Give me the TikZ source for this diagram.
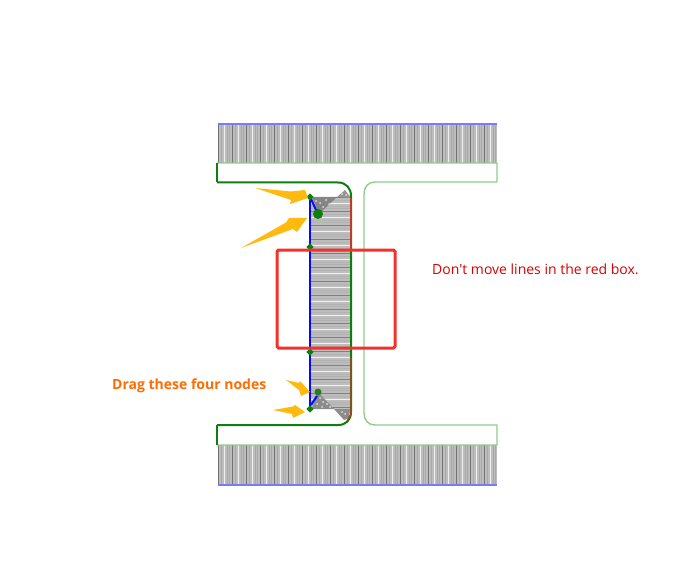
\documentclass[tikz,border=0pt]{standalone}
\usepackage{fontspec}
\setmainfont{Open Sans}
\newfontfamily\plainsans{Open Sans}
\usetikzlibrary{shapes.geometric}
\definecolor{lgreen}{HTML}{8FCB8F}
\definecolor{dgreen}{HTML}{0E7F0E}
\definecolor{lblue}{HTML}{7C7CF0}
\definecolor{myblue}{HTML}{0A0AF0}
\definecolor{myred}{HTML}{C0392B}
\definecolor{boxred}{HTML}{F5302A}
\definecolor{arrowy}{HTML}{FFB90F}
\definecolor{meshbg}{HTML}{BDBDBD}
\tikzset{
  thinl/.style={lgreen,line width=1.4pt},
  thickl/.style={dgreen,line width=2pt},
  yarrow/.style={fill=arrowy,draw=none},
  vnode/.style={fill=dgreen,draw=none,shape=diamond,inner sep=0pt,minimum size=7.5pt},
  cnode/.style={fill=dgreen,draw=none,shape=circle,inner sep=0pt,minimum size=10pt},
  cnodes/.style={fill=dgreen!80!gray,draw=none,shape=circle,inner sep=0pt,minimum size=7pt},
  note/.style={inner sep=0pt,anchor=west}
}
\begin{document}
\begin{tikzpicture}[x=1pt,y=-1pt]
\useasboundingbox (0,0) rectangle (696,564);
% flange meshes
\foreach \yt/\yb in {124/163,445/485}{
  \fill[meshbg] (218,\yt) rectangle (497,\yb);
  \foreach \i in {0,...,99}{
    \pgfmathsetmacro{\xx}{218.5+2.8*\i}
    \pgfmathtruncatemacro{\md}{mod(\i,5)}
    \ifnum\md=0
      \draw[black!55,line width=1pt] (\xx,\yt) -- (\xx,\yb);
    \else\ifnum\md=2
      \draw[white!88!gray,line width=.9pt] (\xx,\yt) -- (\xx,\yb);
    \else
      \draw[black!34,line width=.6pt] (\xx,\yt) -- (\xx,\yb);
    \fi\fi
  }
}
\draw[lblue,line width=1.2pt] (218,124) -- (497,124);
\draw[lblue,line width=1.2pt] (218,485) -- (497,485);
% web mesh
\fill[meshbg] (311,197) rectangle (350,410);
\foreach \i in {0,...,76}{
  \pgfmathsetmacro{\yy}{197.5+2.8*\i}
  \pgfmathtruncatemacro{\md}{mod(\i,5)}
  \ifnum\md=0
    \draw[black!50,line width=.9pt] (311,\yy) -- (350,\yy);
  \else\ifnum\md=2
    \draw[white!90!gray,line width=.9pt] (311,\yy) -- (350,\yy);
  \else
    \draw[black!30,line width=.6pt] (311,\yy) -- (350,\yy);
  \fi\fi
}
% triangular mesh top
\fill[black!48] (312,197) -- (337,197) -- (319,214) -- cycle;
\fill[black!42] (337,197) -- (345,190) -- (351,198) -- cycle;
\foreach \a/\b in {320/203,326/200,323/207,329/204,316/201,342/194,346/195}{
  \fill[white!75!gray] (\a,\b) circle (1);
}
% triangular mesh bottom
\fill[white] (311,409) rectangle (350,412);
\fill[black!45] (318,392) -- (334,409) -- (312,409) -- cycle;
\fill[black!45] (334,409) -- (350,409) -- (349,418) -- (344,420) -- cycle;
\foreach \a/\b in {320/398,323/402,317/404,327/404,330/407,322/407,345/414,342/412}{
  \fill[white!75!gray] (\a,\b) circle (1);
}
% light outline
\draw[thinl,line join=round] (217,163) -- (497,163) -- (497,182) -- (375,182) .. controls (368,182) and (364,187) .. (364,194) -- (364,413) .. controls (364,420) and (368,425) .. (375,425) -- (497,425) -- (497,445) -- (217,445);
% dark outline
\draw[dgreen,line width=1.2pt] (217,163) -- (217,182);
\draw[dgreen,line width=1.2pt] (217,425) -- (217,445);
\draw[thickl] (217,182.5) -- (338,182.5) .. controls (346,182.5) and (351,188) .. (351,196) -- (351,412) .. controls (351,420) and (346,425) .. (338,425) -- (217,425);
\draw[myred,line width=1.4pt] (351,198) -- (351,249);
\draw[myred,line width=1.4pt] (351,358) -- (351,414) -- (347,421);
% blue line
\draw[myblue,line width=2.6pt] (310,197) -- (310,408);
\draw[myblue,line width=2pt] (311,199) -- (317,212);
\draw[myblue,line width=2pt] (311,405) -- (317,396);
% nodes
\node[vnode] (n1) at (310,197) {};
\node[vnode] (n2) at (310,247) {};
\node[vnode] (n3) at (310,352) {};
\node[vnode] (n4) at (310,409) {};
\node[cnode] (c1) at (318,214) {};
\node[cnodes] (c2) at (318,392) {};
% arrows
\fill[yarrow] (255,188) -- (291,191.5) -- (305,190) -- (308,198) -- (290,204) -- (291,200) -- cycle;
\fill[yarrow] (241,248) -- (286,222.5) -- (289,218) -- (307,218) -- (297,232) -- (293,229) -- cycle;
\fill[yarrow] (286,380) -- (299,383) -- (300,381) -- (310,392) -- (301,396) -- (299,390) -- cycle;
\fill[yarrow] (273,410) -- (293,406.5) -- (295,405) -- (305,412) -- (293,418) -- (292,414) -- cycle;
% red box
\draw[boxred,line width=3pt,rounded corners=1.5pt] (277,250) rectangle (395,348);
% text
\node[note,text=orange!85!red,font=\fontsize{14}{16}\selectfont\bfseries] (t1) at (112,385.5) {Drag these four nodes};
\node[note,text=red!85!black,font=\fontsize{14}{16}\plainsans] (t2) at (432,269) {Don't move lines in the red box.};
\end{tikzpicture}
\end{document}
